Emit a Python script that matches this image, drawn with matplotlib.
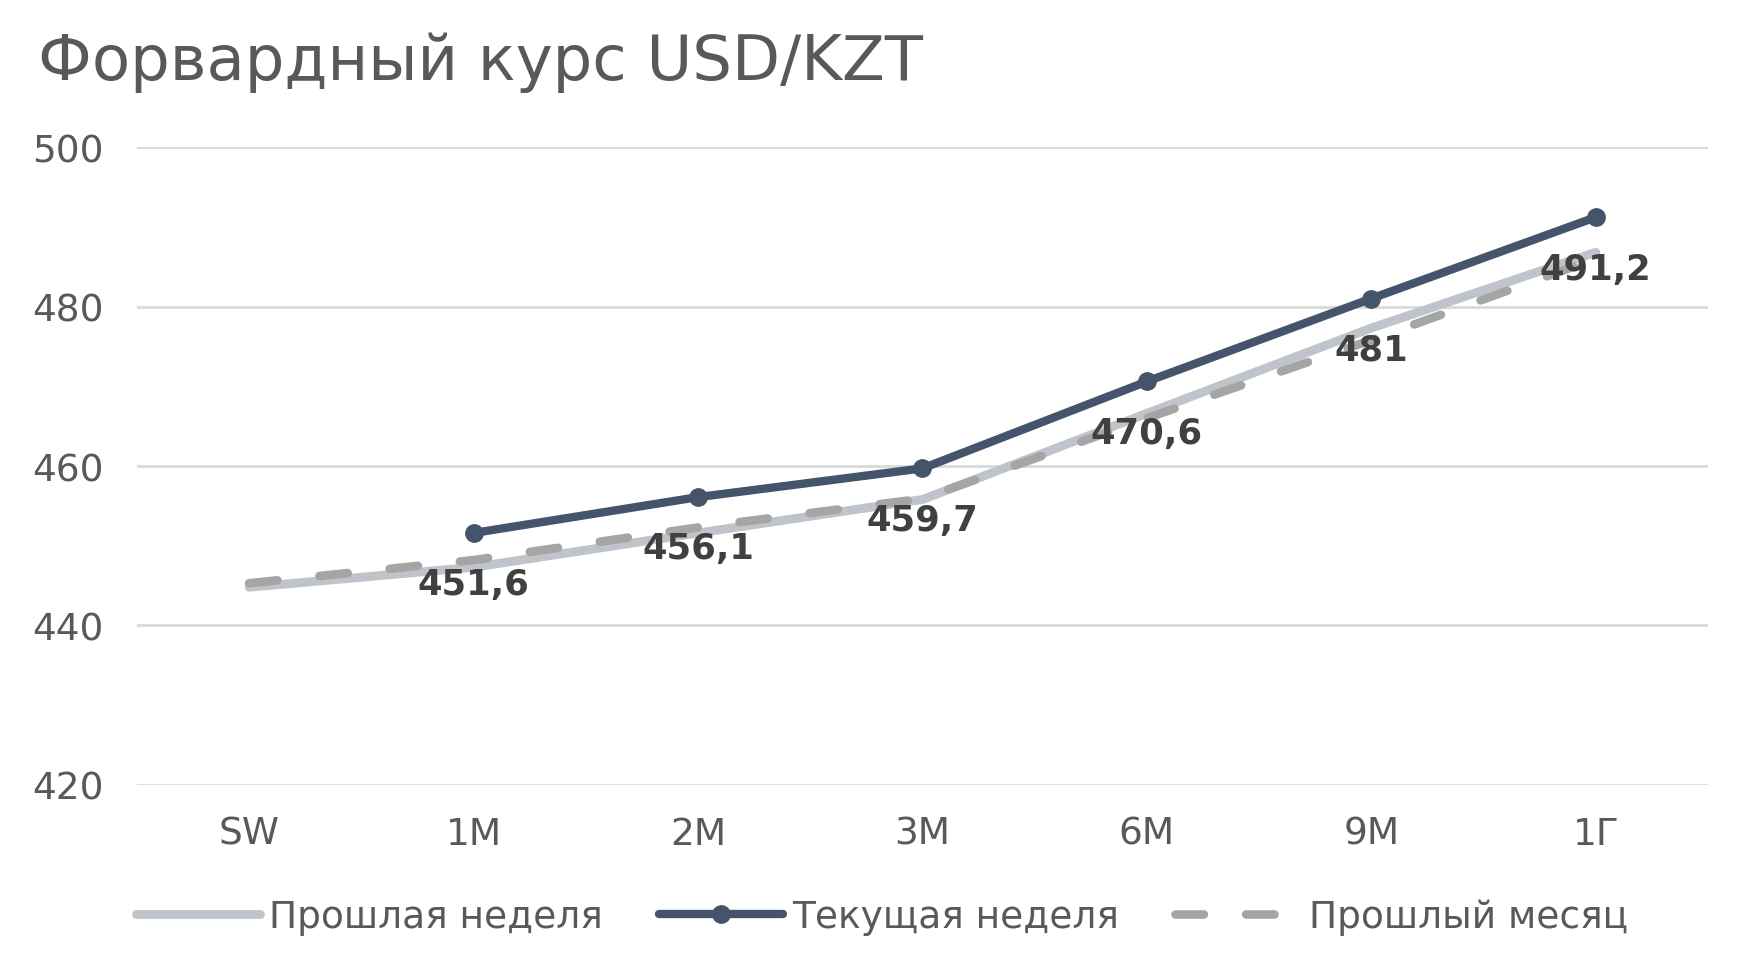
import matplotlib
matplotlib.use("Agg")
import matplotlib.pyplot as plt

categories = ["SW", "1M", "2M", "3M", "6M", "9M", "1Г"]
last_week = [444.8, 447.3, 451.6, 455.8, 466.6, 477.3, 486.8]
current_week = [None, 451.6, 456.1, 459.7, 470.6, 481.0, 491.2]
last_month = [445.3, 448.2, 452.3, 455.9, 466.0, 475.8, 486.0]
data_labels = ["", "451,6", "456,1", "459,7", "470,6", "481", "491,2"]
y_ticks = [420, 440, 460, 480, 500]

FONT = ["DejaVu Sans"]
plt.rcParams["font.family"] = FONT

fig = plt.figure(figsize=(17.45, 9.7), dpi=100)
ax = fig.add_axes([0.0785, 0.1897, 0.9003, 0.6577])

x = list(range(len(categories)))
cx = [i for i, v in zip(x, current_week) if v is not None]
cy = [v for v in current_week if v is not None]

ax.plot(x, last_week, color="#BFC4CB", lw=6.4, solid_capstyle="round",
        label="Прошлая неделя", zorder=3)
ax.plot(cx, cy, color="#44546A", lw=6.0, marker="o", markersize=12.5,
        solid_capstyle="round", label="Текущая неделя", zorder=5)
ax.plot(x, last_month, color="#A5A5A5", lw=6.2, dashes=(3.3, 4.9),
        dash_capstyle="round", label="Прошлый месяц", zorder=4)

for xi, v, t in zip(x, current_week, data_labels):
    if v is None:
        continue
    ax.annotate(t, (xi, v), xytext=(0, -37), textcoords="offset points",
                ha="center", va="center", fontsize=25.5, fontweight="bold",
                color="#404040", zorder=6)

ax.set_xlim(-0.5, 6.5)
ax.set_ylim(420, 500)
ax.set_yticks(y_ticks)
ax.set_xticks(x)
ax.set_xticklabels(categories)
ax.grid(axis="y", color="#D9D9D9", lw=2)
ax.set_axisbelow(True)
for s in ax.spines.values():
    s.set_visible(False)
ax.tick_params(axis="both", length=0, labelsize=27, colors="#595959")
ax.tick_params(axis="y", pad=24)
ax.tick_params(axis="x", pad=22)

fig.text(0.022, 0.935, "Форвардный курс USD/KZT", fontsize=45,
         color="#595959", ha="left", va="center")

leg = ax.legend(loc="center", bbox_to_anchor=(0.5054, 0.054),
                bbox_transform=fig.transFigure, ncol=3, frameon=False,
                fontsize=27, handlelength=3.3, handletextpad=0.25,
                columnspacing=1.5, labelcolor="#595959")

fig.savefig("out.png", dpi=100)
